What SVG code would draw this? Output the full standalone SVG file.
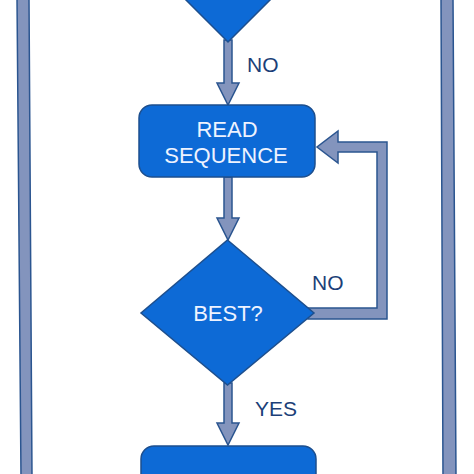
<svg xmlns="http://www.w3.org/2000/svg" width="474" height="474" viewBox="0 0 474 474">
<style>
.node{fill:#0d6ad6;stroke:#1d4f8e;stroke-width:1.5}
.conn{fill:#8394bd;stroke:#2b5590;stroke-width:1.5;stroke-linejoin:miter}
.bar{fill:#8394bd;stroke:#2b5590;stroke-width:1.5}
.in{font-family:"Liberation Sans",Arial,sans-serif;font-size:22px;fill:#eef3ff;text-anchor:middle}
.lbl{font-family:"Liberation Sans",Arial,sans-serif;font-size:21px;fill:#1c3f78}
</style>
<rect width="474" height="474" fill="#ffffff"/>
<g id="frame">
<polygon class="bar" points="17,-2 29,-2 32,476 21,476"/>
<polygon class="bar" points="441,-2 453,-2 456,476 443,476"/>
</g>
<g id="connectors">
<polygon class="conn" points="224,40 232,40 232,83 239,83 228,105 217,83 224,83"/>
<polygon class="conn" points="224,177 232,177 232,218 239,218 228,240 217,218 224,218"/>
<polygon class="conn" points="224,383 232,383 232,423 239,423 228,445 217,423 224,423"/>
<polygon class="conn" points="308,308 377,308 377,152 338,152 338,163 317,147 338,131 338,142 387,142 387,319 308,319"/>
<text class="lbl" x="247" y="72">NO</text>
<text class="lbl" x="312" y="290">NO</text>
<text class="lbl" x="255" y="416">YES</text>
</g>
<g id="top-decision">
<polygon class="node" points="184,-2 272,-2 228,42"/>
</g>
<g id="read-sequence">
<rect class="node" x="139" y="105" width="176" height="72" rx="13"/>
<text class="in" x="227" y="137">READ</text>
<text class="in" x="226" y="163">SEQUENCE</text>
</g>
<g id="best">
<polygon class="node" points="227.5,240 314,313 227.5,385 141,313"/>
<text class="in" x="228" y="321">BEST?</text>
</g>
<g id="bottom-box">
<rect class="node" x="141" y="446" width="175" height="60" rx="13"/>
</g>
</svg>
